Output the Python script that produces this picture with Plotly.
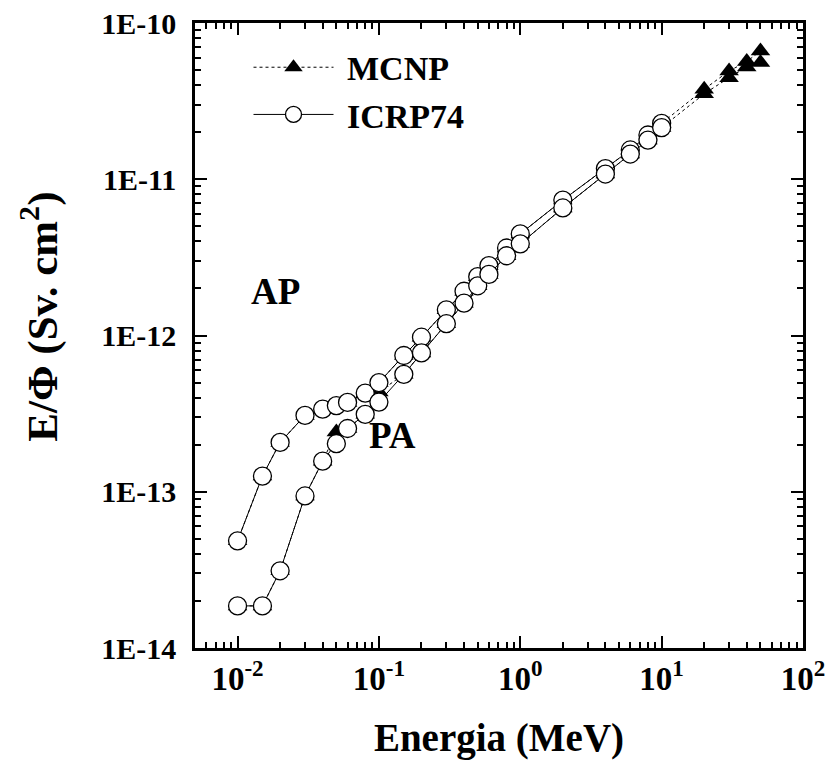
import numpy as np
import plotly.graph_objects as go

# ---------------- data ----------------
energy_icrp = [0.01, 0.015, 0.02, 0.03, 0.04, 0.05, 0.06, 0.08, 0.1, 0.15, 0.2,
               0.3, 0.4, 0.5, 0.6, 0.8, 1, 2, 4, 6, 8, 10]
icrp_ap = [4.85e-14, 1.26e-13, 2.07e-13, 3.08e-13, 3.38e-13, 3.56e-13, 3.73e-13,
           4.28e-13, 5.0e-13, 7.45e-13, 9.75e-13, 1.46e-12, 1.92e-12, 2.38e-12,
           2.8e-12, 3.63e-12, 4.47e-12, 7.36e-12, 1.17e-11, 1.54e-11, 1.92e-11,
           2.28e-11]
icrp_pa = [1.86e-14, 1.86e-14, 3.12e-14, 9.4e-14, 1.57e-13, 2.03e-13, 2.54e-13,
           3.13e-13, 3.75e-13, 5.64e-13, 7.74e-13, 1.19e-12, 1.61e-12, 2.08e-12,
           2.46e-12, 3.24e-12, 3.86e-12, 6.55e-12, 1.08e-11, 1.45e-11, 1.78e-11,
           2.14e-11]

energy_mcnp = [0.01, 0.015, 0.02, 0.03, 0.04, 0.05, 0.06, 0.08, 0.1, 0.15, 0.2,
               0.3, 0.4, 0.5, 0.6, 0.8, 1, 2, 4, 6, 8, 10, 20, 30, 40, 50]
mcnp_ap = [4.85e-14, 1.26e-13, 2.07e-13, 3.08e-13, 3.38e-13, 3.56e-13, 3.73e-13,
           4.28e-13, 5.0e-13, 7.45e-13, 9.75e-13, 1.46e-12, 1.92e-12, 2.38e-12,
           2.8e-12, 3.63e-12, 4.47e-12, 7.36e-12, 1.17e-11, 1.54e-11, 1.92e-11,
           2.28e-11, 3.77e-11, 4.93e-11, 5.66e-11, 6.62e-11]
mcnp_pa = [1.86e-14, 1.86e-14, 3.12e-14, 9.4e-14, 1.57e-13, 2.41e-13, 2.54e-13,
           3.13e-13, 4.35e-13, 5.64e-13, 7.74e-13, 1.19e-12, 1.61e-12, 2.08e-12,
           2.46e-12, 3.24e-12, 3.86e-12, 6.55e-12, 1.08e-11, 1.45e-11, 1.78e-11,
           2.14e-11, 3.52e-11, 4.47e-11, 5.23e-11, 5.58e-11]

x_tickvals = [0.01, 0.1, 1, 10, 100]
x_ticktext = ["10<sup>-2</sup>", "10<sup>-1</sup>", "10<sup>0</sup>",
              "10<sup>1</sup>", "10<sup>2</sup>"]
y_tickvals = [1e-14, 1e-13, 1e-12, 1e-11, 1e-10]
y_ticktext = ["1E-14", "1E-13", "1E-12", "1E-11", "1E-10"]

FONT = "Liberation Serif"

fig = go.Figure()

mcnp_style = dict(mode="lines+markers",
                  line=dict(color="black", width=1, dash="dot"),
                  marker=dict(symbol="triangle-up", size=17, color="black"))
icrp_style = dict(mode="lines+markers",
                  line=dict(color="black", width=1),
                  marker=dict(symbol="circle", size=18, color="white",
                              line=dict(color="black", width=1.3)))

fig.add_trace(go.Scatter(x=energy_mcnp, y=mcnp_ap, name="\u00a0MCNP",
                         legendgroup="mcnp", showlegend=True, **mcnp_style))
fig.add_trace(go.Scatter(x=energy_mcnp, y=mcnp_pa, name="\u00a0MCNP",
                         legendgroup="mcnp", showlegend=False, **mcnp_style))
fig.add_trace(go.Scatter(x=energy_icrp, y=icrp_ap, name="\u00a0ICRP74",
                         legendgroup="icrp", showlegend=True, **icrp_style))
fig.add_trace(go.Scatter(x=energy_icrp, y=icrp_pa, name="\u00a0ICRP74",
                         legendgroup="icrp", showlegend=False, **icrp_style))

x_minor = [k * 10.0 ** n for n in range(-3, 2) for k in range(2, 10)
           if 0.005 <= k * 10.0 ** n <= 100]
y_minor = [k * 10.0 ** n for n in range(-14, -10) for k in range(2, 10)]

axis_common = dict(type="log", showgrid=False, zeroline=False,
                   showline=True, linecolor="black", linewidth=2.5,
                   mirror="allticks", ticks="inside", tickcolor="black",
                   tickwidth=2, tickmode="array", automargin=False,
                   ticklabeloverflow="allow")

fig.update_xaxes(range=[np.log10(0.005), 2], tickvals=x_tickvals,
                 ticktext=x_ticktext, ticklen=12,
                 tickfont=dict(family=FONT, size=33, color="black", weight="bold"),
                 minor=dict(tickmode="array", tickvals=x_minor, ticks="inside",
                            ticklen=6, tickwidth=2, tickcolor="black"),
                 title=dict(text="Energia (MeV)", standoff=29,
                            font=dict(family=FONT, size=39, color="black",
                                      weight="bold")),
                 **axis_common)
fig.update_yaxes(range=[-14, -10], tickvals=y_tickvals, ticktext=y_ticktext,
                 ticklen=12, ticklabelstandoff=10,
                 tickfont=dict(family=FONT, size=30, color="black", weight="bold"),
                 minor=dict(tickmode="array", tickvals=y_minor, ticks="inside",
                            ticklen=6, tickwidth=2, tickcolor="black"),
                 **axis_common)

# y-axis title placed as an annotation (slightly above plot centre, as in reference)
fig.add_annotation(xref="paper", yref="paper", x=-0.255, y=0.53,
                   xanchor="center", yanchor="middle", textangle=-90,
                   text="E/Φ (Sv. cm<sup>2</sup>)", showarrow=False,
                   font=dict(family=FONT, size=43, color="black", weight="bold"))

fig.add_annotation(x=np.log10(0.0186), y=np.log10(1.9e-12), text="AP",
                   showarrow=False,
                   font=dict(family=FONT, size=37, color="black", weight="bold"))
fig.add_annotation(x=np.log10(0.125), y=np.log10(2.3e-13), text="PA",
                   showarrow=False,
                   font=dict(family=FONT, size=37, color="black", weight="bold"))

fig.update_layout(
    template="none",
    width=825, height=760,
    margin=dict(l=195, r=22, t=23, b=112, autoexpand=False),
    paper_bgcolor="white", plot_bgcolor="white",
    showlegend=True,
    legend=dict(x=0.088, y=0.975, xanchor="left", yanchor="top",
                bgcolor="rgba(0,0,0,0)", itemwidth=80, tracegroupgap=0,
                font=dict(family=FONT, size=34, color="black", weight="bold")),
)

fig.write_html("out.html")
